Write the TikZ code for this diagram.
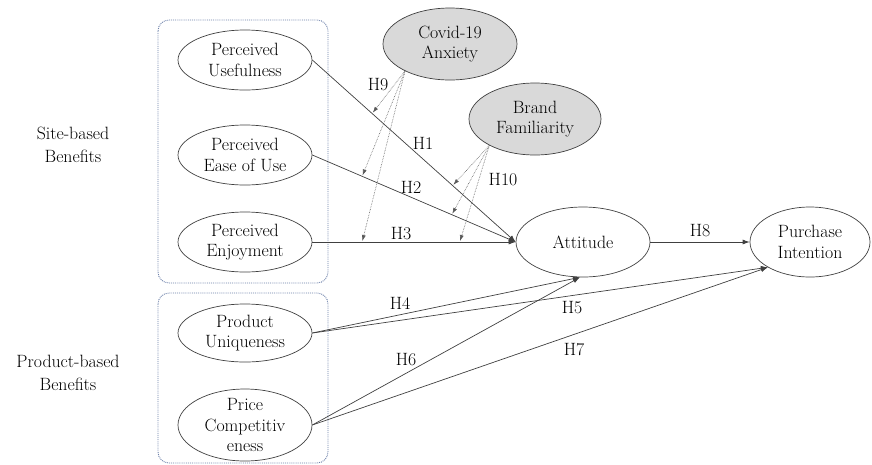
\documentclass[tikz,border=0pt]{standalone}
\usetikzlibrary{shapes.geometric,arrows.meta,calc}
\definecolor{grpcol}{HTML}{6A7FA8}
\definecolor{modfill}{HTML}{D9D9D9}
\begin{document}
\begin{tikzpicture}[x=1pt,y=-1pt,
  every node/.style={font=\fontsize{17.8}{20.5}\selectfont},
  ell/.style={ellipse,draw=black!75,line width=0.7pt,inner sep=0pt,align=center,minimum width=134pt,minimum height=60pt},
  modnode/.style={ell,fill=modfill,minimum height=72pt},
  grp/.style={draw=grpcol,densely dotted,line width=0.9pt,rounded corners=11pt},
  hyp/.style={draw=black!75,line width=0.7pt,-{Latex[length=7pt,width=5pt]}},
  modarrow/.style={draw=black!65,densely dotted,line width=0.6pt,shorten >=1pt,-{Latex[length=6pt,width=4pt]}},
  hlab/.style={inner sep=0pt},
  side/.style={align=center,font=\fontsize{17.8}{23}\selectfont}
]
\useasboundingbox (0,0) rectangle (872,464);

% group boxes
\draw[grp] (158,20) rectangle (328,283);
\draw[grp] (158,293) rectangle (328,463);

% side labels
\node[side] (site) at (73,145) {Site-based\\Benefits};
\node[side] (prodb) at (68,373) {Product-based\\Benefits};

% constructs
\node[ell] (pu) at (245,60) {Perceived\\Usefulness};
\node[ell] (pe) at (245,155) {Perceived\\Ease of Use};
\node[ell] (pj) at (245,242) {Perceived\\Enjoyment};
\node[ell,minimum height=58pt] (pq) at (245,333) {Product\\Uniqueness};
\node[ell,minimum height=72pt,label={[align=center]center:Price\\Competitiv\\eness}] (pc) at (245,425) {};
\node[modnode] (cov) at (450,44) {Covid-19\\Anxiety};
\node[modnode,minimum width=132pt] (bra) at (535,119) {Brand\\Familiarity};
\node[ell,minimum height=70pt] (att) at (583,242) {Attitude};
\node[ell,minimum width=120pt,minimum height=70pt] (pi) at (810,242) {Purchase\\Intention};

% main paths
\draw[hyp] (pu.east) -- (att.west);
\draw[hyp] (pe.east) -- (att.west);
\draw[hyp] (pj.east) -- (att.west);
\draw[hyp] (pq.east) -- (att.265);
\draw[hyp] (pq.east) -- (pi.211);
\draw[hyp] (pc.east) -- (att.265);
\draw[hyp] (pc.east) -- (pi.211);
\draw[hyp] (att.east) -- (pi.west);

% moderation targets
\coordinate (c1) at ($(pu.east)!0.294!(att.west)$);
\coordinate (c2) at ($(pe.east)!0.245!(att.west)$);
\coordinate (c3) at ($(pj.east)!0.245!(att.west)$);
\coordinate (b1) at ($(pu.east)!0.69!(att.west)$);
\coordinate (b2) at ($(pe.east)!0.686!(att.west)$);
\coordinate (b3) at ($(pj.east)!0.725!(att.west)$);

\draw[modarrow] (cov.211) -- (c1);
\draw[modarrow] (cov.211) -- (c2);
\draw[modarrow] (cov.211) -- (c3);
\draw[modarrow] (bra.210) -- (b1);
\draw[modarrow] (bra.210) -- (b2);
\draw[modarrow] (bra.210) -- (b3);

% hypothesis labels
\node[hlab] (h9) at (378,85) {H9};
\node[hlab] (h1) at (423,143) {H1};
\node[hlab] (h2) at (411,187) {H2};
\node[hlab] (h3) at (401,234) {H3};
\node[hlab] (h10) at (503,180) {H10};
\node[hlab] (h8) at (700,231) {H8};
\node[hlab] (h4) at (400,303) {H4};
\node[hlab] (h5) at (572,308) {H5};
\node[hlab] (h6) at (406,360) {H6};
\node[hlab] (h7) at (574,350) {H7};
\end{tikzpicture}
\end{document}
